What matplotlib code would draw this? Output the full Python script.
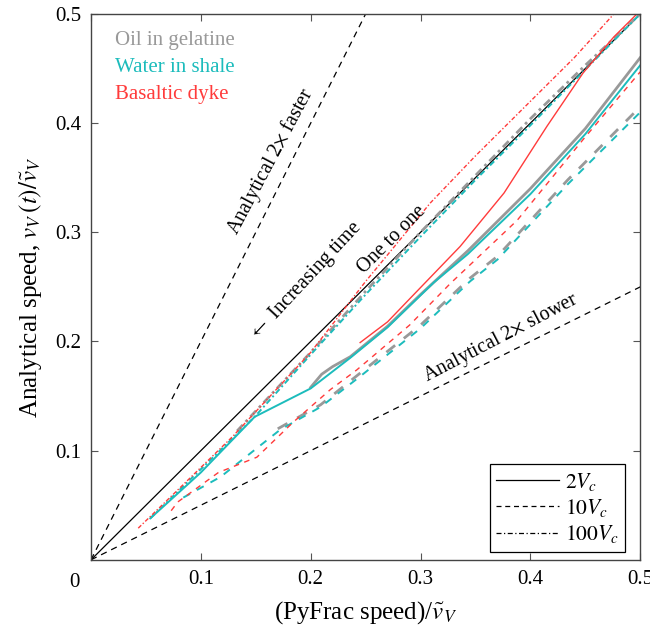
import numpy as np
import matplotlib
matplotlib.use("Agg")
import matplotlib.pyplot as plt
from matplotlib.lines import Line2D

plt.rcParams['font.family'] = ['Liberation Serif', 'DejaVu Serif']
plt.rcParams['mathtext.fontset'] = 'stix'

# --- data ---
# 2Vc (solid)
gel_2_x = [0.200, 0.210, 0.220, 0.236, 0.270, 0.300, 0.343, 0.400, 0.450, 0.500]
gel_2_y = [0.158, 0.170, 0.177, 0.186, 0.214, 0.243, 0.283, 0.340, 0.395, 0.460]
sha_2_x = [0.054, 0.100, 0.149, 0.200, 0.236, 0.270, 0.312, 0.343, 0.400, 0.450, 0.500]
sha_2_y = [0.038, 0.080, 0.131, 0.157, 0.185, 0.213, 0.254, 0.280, 0.335, 0.390, 0.453]
dyk_2_x = [0.245, 0.270, 0.291, 0.336, 0.376, 0.415, 0.448, 0.476, 0.496]
dyk_2_y = [0.199, 0.218, 0.240, 0.287, 0.336, 0.397, 0.446, 0.479, 0.499]

# 10Vc (dashed)
gel_10_x = [0.170, 0.209, 0.245, 0.300, 0.345, 0.370, 0.434, 0.500]
gel_10_y = [0.120, 0.142, 0.171, 0.215, 0.258, 0.278, 0.348, 0.415]
sha_10_x = [0.084, 0.118, 0.172, 0.209, 0.245, 0.300, 0.345, 0.370, 0.434, 0.500]
sha_10_y = [0.057, 0.076, 0.119, 0.140, 0.168, 0.212, 0.255, 0.275, 0.344, 0.410]
dyk_10_x = [0.073, 0.079, 0.116, 0.151, 0.184, 0.218, 0.242, 0.290, 0.327, 0.388, 0.448, 0.500]
dyk_10_y = [0.045, 0.053, 0.080, 0.094, 0.126, 0.156, 0.174, 0.215, 0.253, 0.311, 0.385, 0.447]

# 100Vc (dash-dot)
gel_100_x = [0.133, 0.200, 0.250, 0.300, 0.350, 0.400, 0.450, 0.500]
gel_100_y = [0.118, 0.190, 0.246, 0.300, 0.352, 0.404, 0.453, 0.500]
sha_100_x = [0.054, 0.100, 0.149, 0.200, 0.250, 0.300, 0.350, 0.400, 0.450, 0.500]
sha_100_y = [0.038, 0.083, 0.131, 0.188, 0.243, 0.296, 0.348, 0.398, 0.449, 0.500]
dyk_100_x = [0.043, 0.080, 0.129, 0.200, 0.250, 0.309, 0.350, 0.400, 0.440, 0.476]
dyk_100_y = [0.029, 0.065, 0.113, 0.190, 0.255, 0.327, 0.370, 0.420, 0.460, 0.500]

ref_x = [0, 0.5]

gray = '#999999'
cyan = '#1cbcbc'
red = '#ff3b3b'

fig = plt.figure(figsize=(6.5, 6.34), dpi=100)
ax = fig.add_axes([0.14, 0.117, 0.845, 0.861])

# analytical reference lines
ax.plot(ref_x, [0, 0.5], color='k', lw=0.9)
ax.plot([0, 0.25], [0, 0.5], color='k', lw=0.9, ls=(0, (5, 4)))
ax.plot(ref_x, [0, 0.25], color='k', lw=0.9, ls=(0, (5, 4)))

dash = (0, (4, 4))
dashdot = (0, (3, 1.5, 1, 1.5))
ax.plot(gel_2_x, gel_2_y, color=gray, lw=2.0)
ax.plot(gel_10_x, gel_10_y, color=gray, lw=2.0, ls=dash)
ax.plot(gel_100_x, gel_100_y, color=gray, lw=2.0, ls=dashdot)
ax.plot(sha_2_x, sha_2_y, color=cyan, lw=1.4)
ax.plot(sha_10_x, sha_10_y, color=cyan, lw=1.4, ls=dash)
ax.plot(sha_100_x, sha_100_y, color=cyan, lw=1.4, ls=dashdot)
ax.plot(dyk_2_x, dyk_2_y, color=red, lw=1.0)
ax.plot(dyk_10_x, dyk_10_y, color=red, lw=1.0, ls=dash)
ax.plot(dyk_100_x, dyk_100_y, color=red, lw=1.0, ls=dashdot)

ax.set_xlim(0, 0.5)
ax.set_ylim(0, 0.5)
ax.set_xticks([0, 0.1, 0.2, 0.3, 0.4, 0.5])
ax.set_xticklabels(['', '0.1', '0.2', '0.3', '0.4', '0.5'])
ax.set_yticks([0.1, 0.2, 0.3, 0.4, 0.5])
ax.set_yticklabels(['0.1', '0.2', '0.3', '0.4', '0.5'])
ax.tick_params(direction='in', top=True, right=True, labelsize=15, length=5,
               width=0.8, color='#555555', pad=7)
for s in ax.spines.values():
    s.set_color('#444444')
    s.set_linewidth(1.0)
ax.text(-0.015, -0.012, '0', fontsize=15, ha='center', va='top')

ax.set_xlabel(r'(PyFrac speed)/$\tilde{v}_V$', fontsize=18, labelpad=8)
ax.set_ylabel(r'Analytical speed, $v_V\,(t)/\tilde{v}_V$', fontsize=18, labelpad=8)

# annotations
ax.text(0.164, 0.365, r'Analytical 2$\times$ faster', fontsize=14.5,
        rotation=62, ha='center', va='center', rotation_mode='anchor')
ax.text(0.195, 0.255, r'$\leftarrow$ Increasing time', fontsize=14.5,
        rotation=47, ha='center', va='center', rotation_mode='anchor')
ax.text(0.274, 0.293, 'One to one', fontsize=14.5,
        rotation=45, ha='center', va='center', rotation_mode='anchor')
ax.text(0.373, 0.203, r'Analytical 2$\times$ slower', fontsize=14.5,
        rotation=27.5, ha='center', va='center', rotation_mode='anchor')

ax.text(0.022, 0.476, 'Oil in gelatine', color=gray, fontsize=15, va='center')
ax.text(0.022, 0.451, 'Water in shale', color=cyan, fontsize=15, va='center')
ax.text(0.022, 0.426, 'Basaltic dyke', color=red, fontsize=15, va='center')

handles = [Line2D([], [], color='k', lw=0.9),
           Line2D([], [], color='k', lw=0.9, ls=(0, (4, 3))),
           Line2D([], [], color='k', lw=0.9, ls=(0, (4, 2, 1, 2)))]
leg = ax.legend(handles, ['$2V_c$', '$10V_c$', '$100V_c$'], loc='lower right',
                bbox_to_anchor=(0.973, 0.015), borderaxespad=0,
                fontsize=15.5, fancybox=False, framealpha=1, edgecolor='k',
                handlelength=2.9, handletextpad=0.3,
                labelspacing=0.2, borderpad=0.3)
leg.get_frame().set_linewidth(0.9)

fig.savefig('out.png', dpi=100)
